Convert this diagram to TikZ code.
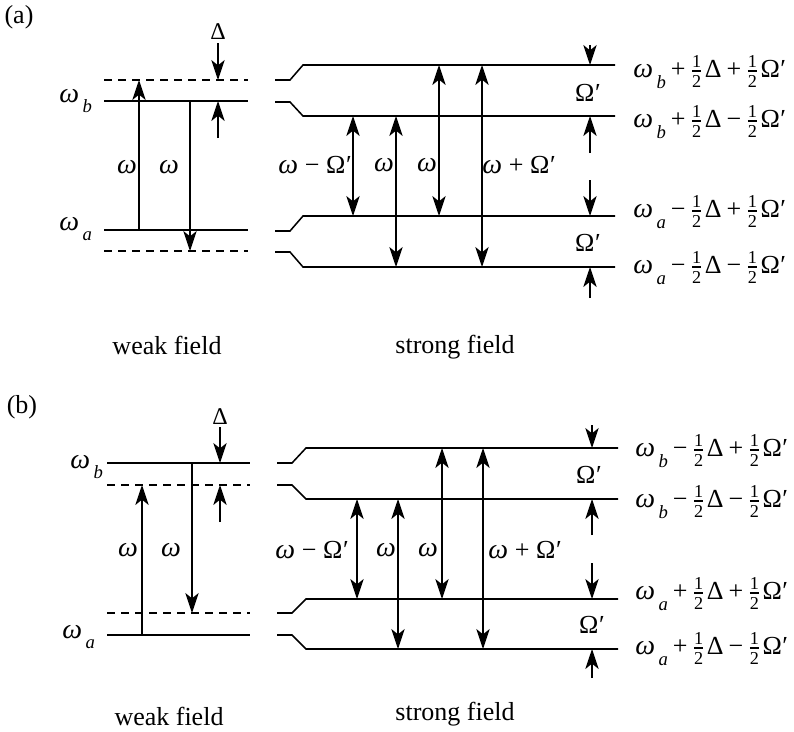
\documentclass[tikz,border=0pt]{standalone}
\usepackage{amsmath}
\usepackage{fontspec}
\setmainfont{Liberation Serif}
\usetikzlibrary{arrows.meta}
\newcommand{\wo}{{\fontsize{21}{22}\selectfont\textit{ω}}}
\newcommand{\lowsub}[1]{\hspace{0.14em}\raisebox{-0.42em}{\fontsize{14}{14}\selectfont\textit{#1}}}
\newcommand{\hlf}{\ensuremath{\tfrac{\text{1}}{\text{2}}}\kern0.08em}
\newcommand{\bop}[1]{\hspace{0.19em}#1\hspace{0.19em}}
\newcommand{\bopw}[1]{\hspace{0.26em}#1\hspace{0.26em}}
\newcommand{\Op}{Ω\kern0.02em′}
\tikzset{
  every node/.style={inner sep=0pt, font=\fontsize{19.5}{22}\selectfont},
  lvl/.style={line width=1.15pt},
  dlvl/.style={lvl, dash pattern=on 6pt off 4.5pt},
  arr/.style={line width=0.85pt, -{Stealth[length=15pt,width=10pt,inset=4pt]}},
  darr/.style={line width=0.85pt, {Stealth[length=15pt,width=10pt,inset=4pt]}-{Stealth[length=15pt,width=10pt,inset=4pt]}},
  dlt/.style={font=\fontsize{18}{20}\selectfont},
  rlab/.style={anchor=west},
}
\begin{document}
\begin{tikzpicture}[x=0.75pt,y=-0.75pt]
\useasboundingbox (0,0) rectangle (794,732);

% ================= panel (a) =================
\node (pa) at (19,17) {(a)};
% weak field
\draw[dlvl] (104,80) -- (248,80);
\draw[lvl]  (104,101) -- (248,101);
\draw[lvl]  (104,230) -- (248,230);
\draw[dlvl] (104,251) -- (248,251);
\draw[arr] (139,230) -- (139,80);
\draw[arr] (190,101) -- (190,251);
\node[dlt] (dA) at (218,32) {Δ};
\draw[arr] (218,43) -- (218,80);
\draw[arr] (218,138) -- (218,101);
\node (wA1) at (127,167) {\wo};
\node (wA2) at (169,167) {\wo};
\node[anchor=base west] (wbA) at (59,102) {\wo\lowsub{b}};
\node[anchor=base west] (waA) at (59,230) {\wo\lowsub{a}};
\node (wfA) at (167,345) {weak field};
% strong field
\draw[lvl] (275,80) -- (290,80) -- (303,65) -- (615,65);
\draw[lvl] (275,102) -- (290,102) -- (303,116) -- (615,116);
\draw[lvl] (275,231) -- (290,231) -- (303,216) -- (615,216);
\draw[lvl] (275,252) -- (290,252) -- (303,267) -- (615,267);
\draw[darr] (353,116) -- (353,216);
\draw[darr] (396,116) -- (396,267);
\draw[darr] (439,65) -- (439,216);
\draw[darr] (482,65) -- (482,267);
\node (sA1) at (315,165) {\wo\bopw{−}\Op};
\node (sA2) at (384,165) {\wo};
\node (sA3) at (427,165) {\wo};
\node (sA4) at (519,165) {\wo\bopw{+}\Op};
\draw[arr] (590,45) -- (590,65);
\draw[arr] (590,153) -- (590,116);
\draw[arr] (590,180) -- (590,216);
\draw[arr] (590,298) -- (590,267);
\node (oA1) at (588,93) {\Op};
\node (oA2) at (588,243) {\Op};
\node[rlab] (rA1) at (633,72) {\wo\lowsub{b}\bop{+}\hlf Δ\bop{+}\hlf \Op};
\node[rlab] (rA2) at (633,122) {\wo\lowsub{b}\bop{+}\hlf Δ\bop{−}\hlf \Op};
\node[rlab] (rA3) at (633,212) {\wo\lowsub{a}\bop{−}\hlf Δ\bop{+}\hlf \Op};
\node[rlab] (rA4) at (633,268) {\wo\lowsub{a}\bop{−}\hlf Δ\bop{−}\hlf \Op};
\node (sfA) at (455,347) {strong field};

% ================= panel (b) =================
\node (pb) at (22,407) {(b)};
% weak field
\draw[lvl]  (107,463) -- (250,463);
\draw[dlvl] (107,485) -- (250,485);
\draw[dlvl] (107,613) -- (250,613);
\draw[lvl]  (107,635) -- (250,635);
\draw[arr] (142,635) -- (142,485);
\draw[arr] (192,463) -- (192,613);
\node[dlt] (dB) at (220,417) {Δ};
\draw[arr] (220,427) -- (220,463);
\draw[arr] (220,522) -- (220,485);
\node (wB1) at (128,550) {\wo};
\node (wB2) at (171,550) {\wo};
\node[anchor=base west] (wbB) at (70,468) {\wo\lowsub{b}};
\node[anchor=base west] (waB) at (62,638) {\wo\lowsub{a}};
\node (wfB) at (169,716) {weak field};
% strong field
\draw[lvl] (277,463) -- (292,463) -- (306,448) -- (618,448);
\draw[lvl] (277,485) -- (292,485) -- (306,499) -- (618,499);
\draw[lvl] (277,613) -- (292,613) -- (306,599) -- (618,599);
\draw[lvl] (277,635) -- (292,635) -- (306,649) -- (618,649);
\draw[darr] (357,499) -- (357,599);
\draw[darr] (398,499) -- (398,649);
\draw[darr] (442,448) -- (442,599);
\draw[darr] (483,448) -- (483,649);
\node (sB1) at (312,550) {\wo\bopw{−}\Op};
\node (sB2) at (386,550) {\wo};
\node (sB3) at (428,550) {\wo};
\node (sB4) at (525,550) {\wo\bopw{+}\Op};
\draw[arr] (592,425) -- (592,448);
\draw[arr] (592,535) -- (592,499);
\draw[arr] (592,563) -- (592,599);
\draw[arr] (592,678) -- (592,649);
\node (oB1) at (589,475) {\Op};
\node (oB2) at (592,625) {\Op};
\node[rlab] (rB1) at (635,451) {\wo\lowsub{b}\bop{−}\hlf Δ\bop{+}\hlf \Op};
\node[rlab] (rB2) at (635,502) {\wo\lowsub{b}\bop{−}\hlf Δ\bop{−}\hlf \Op};
\node[rlab] (rB3) at (635,594) {\wo\lowsub{a}\bop{+}\hlf Δ\bop{+}\hlf \Op};
\node[rlab] (rB4) at (635,649) {\wo\lowsub{a}\bop{+}\hlf Δ\bop{−}\hlf \Op};
\node (sfB) at (455,714) {strong field};
\end{tikzpicture}
\end{document}
